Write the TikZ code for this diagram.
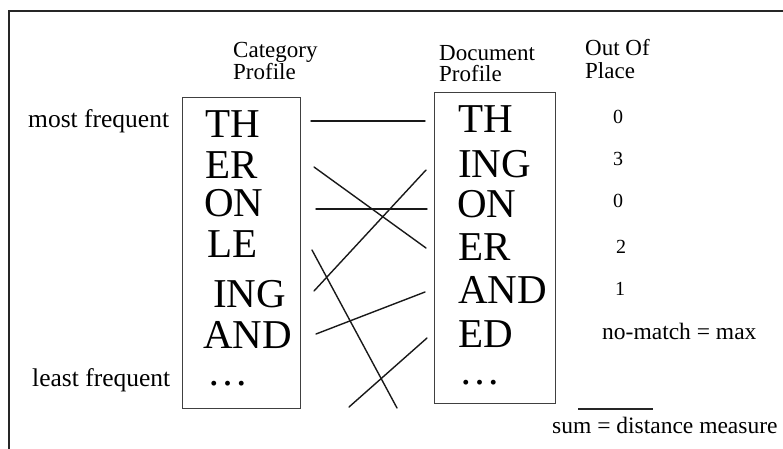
\documentclass[tikz,border=0pt]{standalone}
\usepackage{fontspec}
\setmainfont{Liberation Serif}
\begin{document}
\begin{tikzpicture}[x=1pt,y=-1pt,
  head/.style={inner sep=0pt, anchor=base west, font=\fontsize{23}{23}\selectfont},
  side/.style={inner sep=0pt, anchor=base west, font=\fontsize{25.5}{25.5}\selectfont},
  gram/.style={inner sep=0pt, anchor=base west, font=\fontsize{41}{41}\selectfont},
  num/.style={inner sep=0pt, anchor=base, font=\fontsize{20}{20}\selectfont},
  note/.style={inner sep=0pt, anchor=base west, font=\fontsize{23.5}{23.5}\selectfont},
  profile/.style={draw=black!75, line width=1.1pt, inner sep=0pt, anchor=north west},
  link/.style={line width=1.4pt, black!90, line cap=round}
]
\useasboundingbox (0,0) rectangle (783,448);
\clip (0,0) rectangle (783,448);

% outer frame (runs past the right and bottom edges)
\draw[line width=1.8pt, black!85] (9,470) -- (9,11) -- (800,11);

% column headings
\node[head] (cathA) at (233,57) {Category};
\node[head] (cathB) at (233,79) {Profile};
\node[head] (dochA) at (439,60) {Document};
\node[head] (dochB) at (439,81) {Profile};
\node[head] (oopA)  at (585,55) {Out Of};
\node[head] (oopB)  at (585,78) {Place};

% frequency labels
\node[side] (most)  at (28,127) {most frequent};
\node[side] (least) at (32,386) {least frequent};

% profile boxes
\node[profile, minimum width=118pt, minimum height=311pt] (catbox) at (182,97) {};
\node[profile, minimum width=121pt, minimum height=311pt] (docbox) at (434,92) {};

% category profile n-grams
\node[gram] (c1) at (205,137) {TH};
\node[gram] (c2) at (205,178) {ER};
\node[gram] (c3) at (204,216) {ON};
\node[gram] (c4) at (207,257) {LE};
\node[gram] (c5) at (213,307) {ING};
\node[gram] (c6) at (203,348) {AND};
\node[gram] (c7) at (207,385) {\dots};

% document profile n-grams
\node[gram] (d1) at (458,132) {TH};
\node[gram] (d2) at (458,177) {ING};
\node[gram] (d3) at (457,217) {ON};
\node[gram] (d4) at (458,260) {ER};
\node[gram] (d5) at (458,303) {AND};
\node[gram] (d6) at (458,347) {ED};
\node[gram] (d7) at (459,384) {\dots};

% out-of-place values
\node[num] (o1) at (618,123) {0};
\node[num] (o2) at (618,165) {3};
\node[num] (o3) at (618,207) {0};
\node[num] (o4) at (621,253) {2};
\node[num] (o5) at (620,295) {1};
\node[note] (nomatch) at (602,339) {no-match = max};
\node[note] (sum) at (552,433) {sum = distance measure};
\coordinate (barL) at (578,409);
\coordinate (barR) at (653,409);
\draw[line width=1.2pt, black!85] (barL) -- (barR);

% connector end points
\coordinate (aTH)  at (311,121); \coordinate (bTH)  at (425,121);
\coordinate (aER)  at (314,167); \coordinate (bER)  at (426,248);
\coordinate (aON)  at (316,209); \coordinate (bON)  at (427,209);
\coordinate (bING) at (426,170); \coordinate (aING) at (314,291);
\coordinate (aLE)  at (312,250); \coordinate (zLE)  at (397,408);
\coordinate (aAND) at (316,334); \coordinate (bAND) at (425,292);
\coordinate (zED)  at (349,407); \coordinate (bED)  at (427,338);

% matching lines
\draw[link] (aTH) -- (bTH);
\draw[link] (aER) -- (bER);
\draw[link] (aON) -- (bON);
\draw[link] (bING) -- (aING);
\draw[link] (aLE) -- (zLE);
\draw[link] (aAND) -- (bAND);
\draw[link] (zED) -- (bED);
\end{tikzpicture}
\end{document}
